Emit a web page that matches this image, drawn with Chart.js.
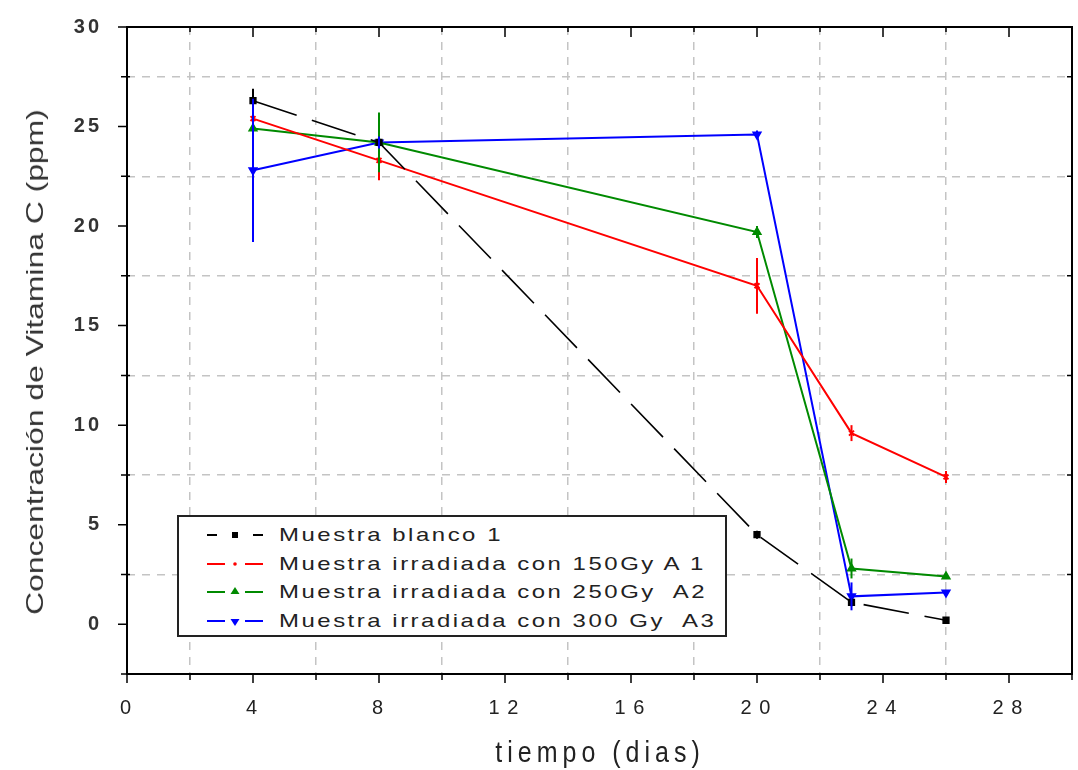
<!DOCTYPE html>
<html>
<head>
<meta charset="utf-8">
<script src="https://cdn.jsdelivr.net/npm/chart.js@4.4.1/dist/chart.umd.min.js"></script>
<style>
  html, body { margin: 0; padding: 0; background: #fff; }
  #wrap { position: relative; width: 1078px; height: 770px; overflow: hidden; }
  #legend {
    position: absolute; left: 177px; top: 515px; width: 550px; height: 122px;
    border: 2px solid #222; background: #fff; box-sizing: border-box;
    font-family: "Liberation Sans", Arial, sans-serif; font-size: 19px;
    letter-spacing: 2px; color: #222; padding-top: 4px;
  }
  #legend .row { height: 28.5px; line-height: 28.5px; display: flex; align-items: center; white-space: nowrap; }
  #legend svg { margin-left: 28px; margin-right: 16px; flex: none; }
  #legend span { display: inline-block; transform: scaleX(1.26); transform-origin: left center; }
  .axisTitle { position: absolute; font-family: "Liberation Sans", Arial, sans-serif; white-space: nowrap; }
  #xTitle { left: 600px; top: 752px; font-size: 25px; letter-spacing: 5px; color: #222;
            transform: translate(-50%, -50%) scaleY(1.2); }
  #yTitle { left: 35px; top: 362px; font-size: 24.5px; color: #333;
            transform: translate(-50%, -50%) rotate(-90deg) scaleX(1.3); }
</style>
</head>
<body>
<div id="wrap">
  <canvas id="vitC" width="1078" height="770"></canvas>
  <div id="legend"></div>
  <div id="xTitle" class="axisTitle"></div>
  <div id="yTitle" class="axisTitle"></div>
</div>
<script>
const days = [4, 8, 20, 23, 26];

const blanco = [26.3, 24.2, 4.5, 1.1, 0.2];
const irr150 = [25.4, 23.3, 17.0, 9.6, 7.4];
const irr250 = [24.9, 24.2, 19.7, 2.8, 2.4];
const irr300 = [22.8, 24.2, 24.6, 1.4, 1.6];

// desviaciones (barras de error)
const errBlanco = [0.6, 0.3, 0.2, 0.2, 0.1];
const err150 = [0.3, 1.0, 1.4, 0.4, 0.3];
const err250 = [0.3, 1.5, 0.3, 0.5, 0.1];
const err300 = [3.6, 0.3, 0.2, 0.7, 0.1];

const seriesNames = [
    "Muestra blanco 1",
    "Muestra irradiada con 150Gy A 1",
    "Muestra irradiada con 250Gy  A2",
    "Muestra irradiada con 300 Gy  A3"
];
const seriesColors = ["#000000", "#ff0000", "#008a00", "#0000ff"];

const xTitle = "tiempo (dias)";
const yTitle = "Concentración de Vitamina C (ppm)";

const toPoints = (vals) => days.map((d, i) => ({ x: d, y: vals[i] }));

// barras de error, marco y marcas de los ejes
const extrasPlugin = {
    id: 'extras',
    beforeDraw(chart) {
        chart.ctx.letterSpacing = '3px';
    },
    afterDatasetsDraw(chart) {
        const ctx = chart.ctx;
        const yScale = chart.scales.y;
        chart.data.datasets.forEach((ds, i) => {
            const meta = chart.getDatasetMeta(i);
            ctx.save();
            ctx.strokeStyle = ds.borderColor;
            ctx.lineWidth = 2;
            meta.data.forEach((pt, j) => {
                const v = ds.data[j].y;
                const e = ds.errors[j];
                ctx.beginPath();
                ctx.moveTo(pt.x, yScale.getPixelForValue(v + e));
                ctx.lineTo(pt.x, yScale.getPixelForValue(v - e));
                ctx.stroke();
            });
            ctx.restore();
        });
    },
    afterDraw(chart) {
        const { ctx, chartArea: a, scales } = chart;
        ctx.save();
        ctx.strokeStyle = '#000';
        ctx.lineWidth = 2;
        ctx.strokeRect(a.left, a.top, a.right - a.left, a.bottom - a.top);
        ctx.lineWidth = 1.5;
        ctx.beginPath();
        scales.x.ticks.forEach(t => {
            const px = scales.x.getPixelForValue(t.value);
            const major = t.value % 4 === 0;
            ctx.moveTo(px, a.bottom);
            ctx.lineTo(px, a.bottom + (major ? 9 : 6));
            ctx.moveTo(px, a.top);
            ctx.lineTo(px, a.top + (major ? 10 : 5));
        });
        scales.y.ticks.forEach(t => {
            const py = scales.y.getPixelForValue(t.value);
            const major = t.value % 5 === 0;
            ctx.moveTo(a.left - (major ? 9 : 6), py);
            ctx.lineTo(a.left + (major ? 0 : 3), py);
            ctx.moveTo(a.right, py);
            ctx.lineTo(a.right - (major ? 0 : 5), py);
        });
        ctx.stroke();
        ctx.restore();
    }
};

const makeDataset = (i, vals, errs, style) => Object.assign({
    label: seriesNames[i],
    data: toPoints(vals),
    errors: errs,
    borderColor: seriesColors[i],
    backgroundColor: seriesColors[i],
    borderWidth: 2,
    pointRadius: 4,
    pointHoverRadius: 4,
    fill: false,
    tension: 0
}, style);

const gridGray = '#c4c4c4';

new Chart(document.getElementById('vitC').getContext('2d'), {
    type: 'line',
    data: {
        datasets: [
            makeDataset(0, blanco, errBlanco, { borderWidth: 1.6, borderDash: [46, 16], pointStyle: 'rect', pointRadius: 4 }),
            makeDataset(1, irr150, err150, { pointStyle: 'crossRot', pointRadius: 3.5, pointBorderWidth: 2 }),
            makeDataset(2, irr250, err250, { pointStyle: 'triangle', pointRadius: 4 }),
            makeDataset(3, irr300, err300, { pointStyle: 'triangle', pointRotation: 180, pointRadius: 4 })
        ]
    },
    options: {
        responsive: false,
        animation: false,
        layout: { padding: { left: 8, top: 27, right: 6, bottom: 0 } },
        plugins: {
            legend: { display: false },
            tooltip: { enabled: false }
        },
        scales: {
            x: {
                type: 'linear',
                min: 0,
                max: 30,
                afterFit: (s) => { s.height = 96; s.paddingLeft = 0; s.paddingRight = 0; },
                ticks: {
                    stepSize: 2,
                    autoSkip: false,
                    maxRotation: 0,
                    padding: 22,
                    color: '#222',
                    font: { family: "Liberation Sans", size: 20 },
                    callback: (v) => (v % 4 === 0 && v < 30) ? String(v).split('').join('\u200A') : ''
                },
                grid: {
                    drawTicks: false,
                    lineWidth: 1.5,
                    color: (c) => (c.tick && c.tick.value % 4 === 2) ? gridGray : 'rgba(0,0,0,0)'
                },
                border: { display: false, dash: [8, 7] },
                title: { display: false }
            },
            y: {
                min: -2.5,
                max: 30,
                afterFit: (s) => { s.width = 119; s.paddingTop = 0; s.paddingBottom = 0; },
                ticks: {
                    stepSize: 2.5,
                    autoSkip: false,
                    padding: 25,
                    color: '#333',
                    font: { family: "Liberation Sans", size: 20, weight: 'bold' },
                    callback: (v) => (v % 5 === 0) ? String(v) : ''
                },
                grid: {
                    drawTicks: false,
                    lineWidth: 1.5,
                    color: (c) => (c.tick && Math.abs(c.tick.value % 5) === 2.5 && c.tick.value > 0) ? gridGray : 'rgba(0,0,0,0)'
                },
                border: { display: false, dash: [8, 7] },
                title: { display: false }
            }
        }
    },
    plugins: [extrasPlugin]
});

document.getElementById('xTitle').textContent = xTitle;
document.getElementById('yTitle').textContent = yTitle;

// leyenda con recuadro
const legendEl = document.getElementById('legend');
const markerSvg = (i) => {
    const c = seriesColors[i];
    const dash = i === 0
        ? `<line x1="0" y1="8" x2="10" y2="8" stroke="${c}" stroke-width="2"/><line x1="46" y1="8" x2="56" y2="8" stroke="${c}" stroke-width="2"/>`
        : `<line x1="0" y1="8" x2="18" y2="8" stroke="${c}" stroke-width="2"/><line x1="38" y1="8" x2="56" y2="8" stroke="${c}" stroke-width="2"/>`;
    const marks = [
        `<rect x="25" y="5" width="6" height="6" fill="${c}"/>`,
        `<circle cx="28" cy="8" r="1.8" fill="${c}"/>`,
        `<polygon points="28,3 32.5,10 23.5,10" fill="${c}"/>`,
        `<polygon points="28,13 32.5,6 23.5,6" fill="${c}"/>`
    ];
    return `<svg width="56" height="16">${dash}${marks[i]}</svg>`;
};
seriesNames.forEach((name, i) => {
    const row = document.createElement('div');
    row.className = 'row';
    row.innerHTML = markerSvg(i) + `<span>${name.replace(/ {2}/g, '&nbsp; ')}</span>`;
    legendEl.appendChild(row);
});
</script>
</body>
</html>
